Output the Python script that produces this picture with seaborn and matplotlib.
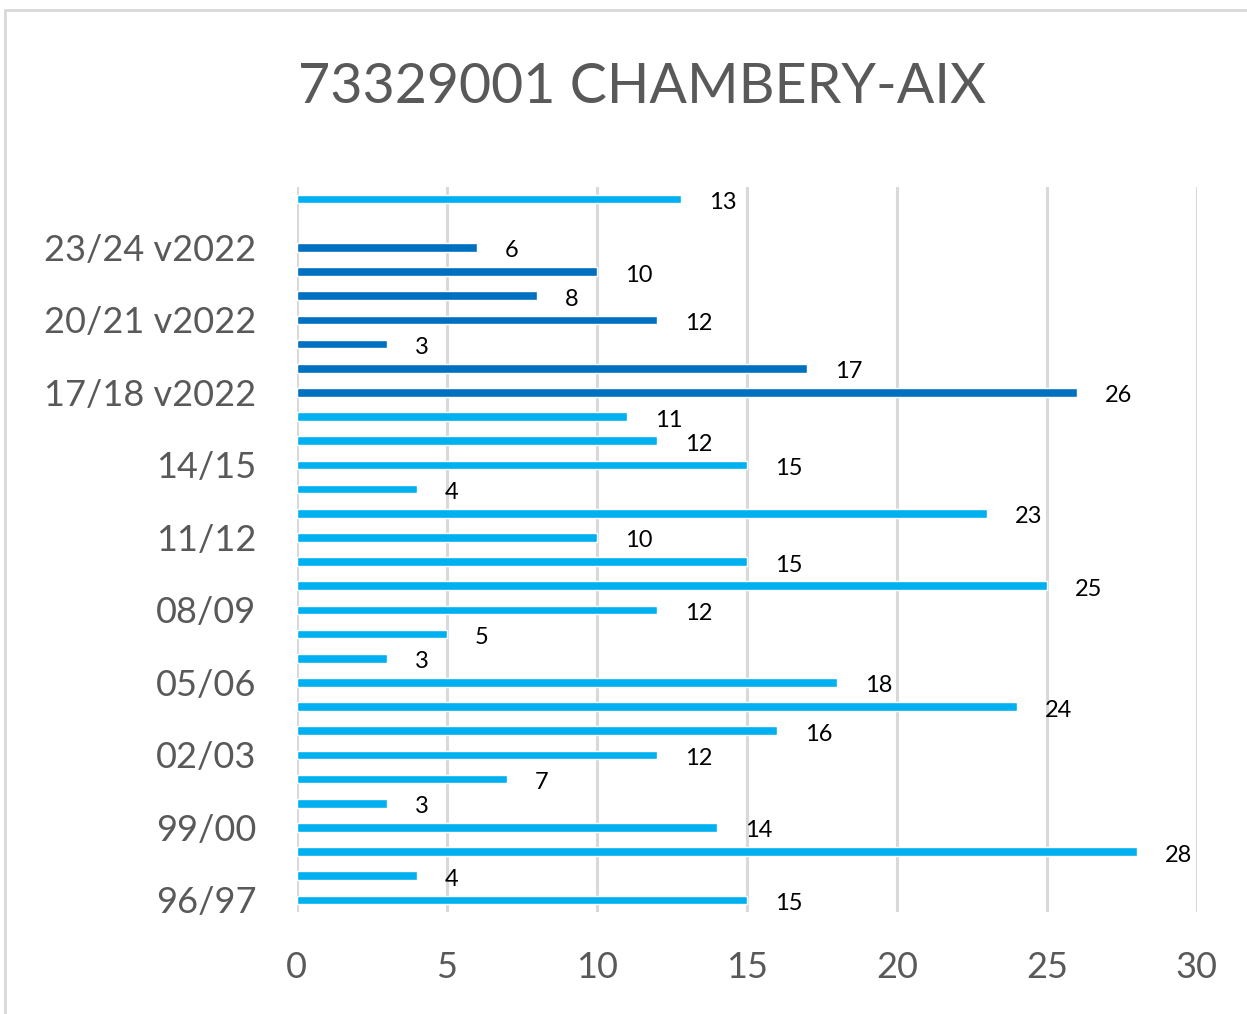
import numpy as np
import pandas as pd
import matplotlib.pyplot as plt
from matplotlib.patches import Rectangle
import seaborn as sns

# Saisons (de bas en haut du graphique)
saisons = ["96/97", "97/98", "98/99", "99/00", "00/01", "01/02", "02/03",
           "03/04", "04/05", "05/06", "06/07", "07/08", "08/09", "09/10",
           "10/11", "11/12", "12/13", "13/14", "14/15", "15/16", "16/17",
           "17/18 v2022", "18/19 v2022", "19/20 v2022", "20/21 v2022",
           "21/22 v2022", "22/23 v2022", "23/24 v2022", "24/25 v2022",
           "Moyenne"]
valeurs = [15, 4, 28, 14, 3, 7, 12, 16, 24, 18, 3, 5, 12, 25, 15, 10, 23, 4,
           15, 12, 11, 26, 17, 3, 12, 8, 10, 6, np.nan, 12.8]
series = ["Historique"] * 21 + ["v2022"] * 8 + ["Moyenne"]
couleurs = {"Historique": "#00B0F0", "v2022": "#0070C0", "Moyenne": "#00B0F0"}
# seules une saison sur trois est affichée sur l'axe
saisons_affichees = ["96/97", "99/00", "02/03", "05/06", "08/09", "11/12",
                     "14/15", "17/18 v2022", "20/21 v2022", "23/24 v2022"]

df = pd.DataFrame({"saison": saisons, "valeur": valeurs, "serie": series})

sns.set_style("white")
plt.rcParams["font.family"] = ["Lato", "DejaVu Sans"]

fig = plt.figure(figsize=(12.47, 10.14), dpi=100)
ax = fig.add_axes([0.238, 0.1006, 0.7218, 0.715])

ordre = saisons[::-1]
sns.barplot(data=df, x="valeur", y="saison", hue="serie", palette=couleurs,
            order=ordre, dodge=False, width=0.36, saturation=1, legend=False,
            ax=ax)

ax.set_xlim(0, 30)
ax.set_xticks(range(0, 31, 5))
ax.xaxis.grid(True, color="#D9D9D9", linewidth=2.2)
ax.set_axisbelow(True)
for s in ax.spines.values():
    s.set_visible(False)

ax.set_yticks([ordre.index(s) for s in saisons_affichees])
ax.set_yticklabels(saisons_affichees)
ax.tick_params(axis="y", length=0, pad=29, labelsize=26, labelcolor="#595959")
ax.tick_params(axis="x", length=0, pad=28, labelsize=26, labelcolor="#595959")
ax.set_xlabel("")
ax.set_ylabel("")

for c in ax.containers:
    labels = ["" if np.isnan(b.get_width()) or b.get_width() == 0
              else f"{b.get_width():.0f}" for b in c]
    textes = ax.bar_label(c, labels=labels, padding=20, fontsize=17,
                          color="black")
    for t in textes:
        t.xyann = (t.xyann[0], t.xyann[1] - 2.5)

fig.text(0.515, 0.914, "73329001 CHAMBERY-AIX", ha="center", va="center",
         fontsize=40, color="#595959")

fig.patches.append(Rectangle((0.004, -0.01), 1.1, 1.0, transform=fig.transFigure,
                             fill=False, edgecolor="#D9D9D9", linewidth=2))

fig.savefig("out.png", dpi=100)
